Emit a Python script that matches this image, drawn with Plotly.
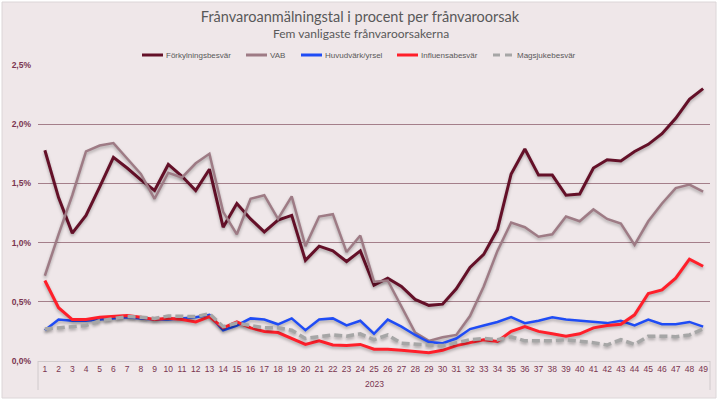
import plotly.graph_objects as go

weeks = [str(i) for i in range(1, 50)]
year_label = "2023"

forkylning = [1.78, 1.38, 1.08, 1.23, 1.47, 1.72, 1.63, 1.53, 1.44, 1.66,
              1.56, 1.44, 1.62, 1.13, 1.33, 1.20, 1.09, 1.19, 1.23, 0.85,
              0.97, 0.93, 0.84, 0.93, 0.64, 0.70, 0.63, 0.52, 0.47, 0.48,
              0.61, 0.79, 0.90, 1.11, 1.58, 1.79, 1.57, 1.57, 1.40, 1.41,
              1.63, 1.70, 1.69, 1.77, 1.83, 1.92, 2.05, 2.21, 2.30]
vab = [0.72, 1.07, 1.40, 1.77, 1.82, 1.84, 1.71, 1.58, 1.37, 1.59,
       1.55, 1.67, 1.75, 1.26, 1.07, 1.37, 1.40, 1.20, 1.39, 0.97,
       1.22, 1.24, 0.92, 1.06, 0.67, 0.68, 0.46, 0.24, 0.17, 0.20,
       0.22, 0.38, 0.63, 0.93, 1.17, 1.13, 1.05, 1.07, 1.22, 1.18,
       1.28, 1.20, 1.16, 0.98, 1.18, 1.33, 1.46, 1.49, 1.43]
huvudvark = [0.26, 0.35, 0.34, 0.34, 0.35, 0.36, 0.37, 0.36, 0.35, 0.35,
             0.36, 0.37, 0.39, 0.26, 0.30, 0.36, 0.35, 0.31, 0.36, 0.26,
             0.35, 0.36, 0.30, 0.34, 0.23, 0.35, 0.29, 0.22, 0.16, 0.15,
             0.19, 0.27, 0.30, 0.33, 0.37, 0.32, 0.34, 0.37, 0.35, 0.34,
             0.33, 0.32, 0.34, 0.30, 0.35, 0.31, 0.31, 0.33, 0.29]
influensa = [0.68, 0.45, 0.35, 0.35, 0.37, 0.38, 0.385, 0.37, 0.35, 0.36,
             0.35, 0.33, 0.375, 0.28, 0.33, 0.28, 0.25, 0.24, 0.19, 0.14,
             0.17, 0.135, 0.13, 0.14, 0.10, 0.10, 0.09, 0.08, 0.07, 0.09,
             0.13, 0.155, 0.18, 0.165, 0.25, 0.29, 0.25, 0.23, 0.21, 0.23,
             0.28, 0.30, 0.31, 0.39, 0.57, 0.60, 0.70, 0.86, 0.80]
magsjuke = [0.27, 0.28, 0.29, 0.30, 0.34, 0.36, 0.375, 0.37, 0.36, 0.38,
            0.375, 0.375, 0.40, 0.29, 0.32, 0.30, 0.28, 0.28, 0.26, 0.19,
            0.205, 0.22, 0.21, 0.23, 0.18, 0.22, 0.15, 0.14, 0.135, 0.13,
            0.155, 0.18, 0.19, 0.18, 0.205, 0.17, 0.17, 0.17, 0.18, 0.17,
            0.155, 0.135, 0.18, 0.14, 0.21, 0.21, 0.205, 0.22, 0.27]

y_tickvals = [0, 0.5, 1.0, 1.5, 2.0, 2.5]
y_ticktext = ["0,0%", "0,5%", "1,0%", "1,5%", "2,0%", "2,5%"]

W, H = 720, 404
ML, MR, MT, MB = 38, 10, 65, 43
PW, PH = W - ML - MR, H - MT - MB


def px(xp):
    return (xp - ML) / PW


def py(yp):
    return (H - MB - yp) / PH


series = [
    ("Förkylningsbesvär", forkylning, "#641028", 3, "solid"),
    ("VAB", vab, "#9E7B85", 2.5, "solid"),
    ("Huvudvärk/yrsel", huvudvark, "#1F4CF5", 2.5, "solid"),
    ("Influensabesvär", influensa, "#FF1F2A", 3, "solid"),
    ("Magsjukebesvär", magsjuke, "#A6A6A6", 3.5, "8px,4px"),
]
# legend layout (pixel start of each legend swatch)
legend_x = [142, 246, 301, 397, 493]
legend_y = 55

fig = go.Figure()
for name, vals, color, width, dash in series:
    fig.add_trace(go.Scatter(
        x=weeks, y=vals, name=name, mode="lines",
        line=dict(color=color, width=width, dash=dash),
        hoverinfo="skip", showlegend=False,
    ))

tick_color = "#7A3550"
shapes = [
    dict(type="rect", xref="paper", yref="paper",
         x0=px(2), x1=px(716), y0=py(398), y1=py(2),
         fillcolor="#EFE7E9", line=dict(color="#DCD6D8", width=1),
         layer="below"),
    dict(type="line", xref="paper", yref="paper",
         x0=0, x1=0, y0=0, y1=py(390),
         line=dict(color="#D0CACC", width=1)),
    dict(type="line", xref="paper", yref="paper",
         x0=1, x1=1, y0=0, y1=py(390),
         line=dict(color="#D0CACC", width=1)),
]
annotations = [
    dict(text="Fem vanligaste frånvaroorsakerna", xref="paper", yref="paper",
         x=px(361), y=py(34), xanchor="center", yanchor="middle",
         showarrow=False, font=dict(family="Lato", size=12, color="#595959")),
    dict(text=year_label, xref="paper", yref="paper",
         x=px(374), y=py(384), xanchor="center", yanchor="middle",
         showarrow=False, font=dict(size=8.5, color=tick_color)),
]
for (name, vals, color, width, dash), lx in zip(series, legend_x):
    if dash == "solid":
        shapes.append(dict(type="line", xref="paper", yref="paper",
                           x0=px(lx), x1=px(lx + 21), y0=py(legend_y), y1=py(legend_y),
                           line=dict(color=color, width=3)))
    else:
        for s in (lx, lx + 12):
            shapes.append(dict(type="line", xref="paper", yref="paper",
                               x0=px(s), x1=px(s + 7), y0=py(legend_y), y1=py(legend_y),
                               line=dict(color=color, width=3)))
    annotations.append(dict(text=name, xref="paper", yref="paper",
                            x=px(lx + 22), y=py(legend_y),
                            xanchor="left", yanchor="middle", showarrow=False,
                            font=dict(size=8, color="#595959")))

fig.update_layout(
    width=W, height=H,
    margin=dict(l=ML, r=MR, t=MT, b=MB, autoexpand=False),
    paper_bgcolor="white",
    plot_bgcolor="rgba(0,0,0,0)",
    font=dict(family="Liberation Sans, Arial, sans-serif", color="#595959"),
    title=dict(text="Frånvaroanmälningstal i procent per frånvaroorsak",
               x=0.5, xref="container", xanchor="center",
               y=1 - 17 / H, yref="container", yanchor="middle",
               font=dict(family="Lato", size=14.5, color="#595959")),
    showlegend=False,
    xaxis=dict(type="category", range=[-0.5, 48.5], automargin=False,
               showgrid=False, zeroline=False,
               showline=True, linecolor="#D0CACC", linewidth=1,
               ticks="", tickfont=dict(size=8.5, color=tick_color),
               fixedrange=True),
    yaxis=dict(range=[0, 2.5], tickvals=y_tickvals, ticktext=y_ticktext,
               automargin=False, ticklabelstandoff=6,
               showgrid=True, gridcolor="#A47F8A", gridwidth=1,
               zeroline=True, zerolinecolor="#D0CACC", zerolinewidth=1,
               showline=False, ticks="",
               tickfont=dict(size=8.5, color=tick_color, weight="bold"),
               fixedrange=True),
    hovermode=False,
    shapes=shapes,
    annotations=annotations,
)

post = (
    "document.body.style.margin='0';document.body.style.overflow='hidden';"
    "document.querySelectorAll('.scatterlayer .trace path.js-line').forEach(function(p){"
    "p.style.filter='drop-shadow(0px 2px 1.5px rgba(0,0,0,0.28))';});"
)
fig.write_html("out.html", config=dict(displayModeBar=False, staticPlot=True),
               post_script=post)
